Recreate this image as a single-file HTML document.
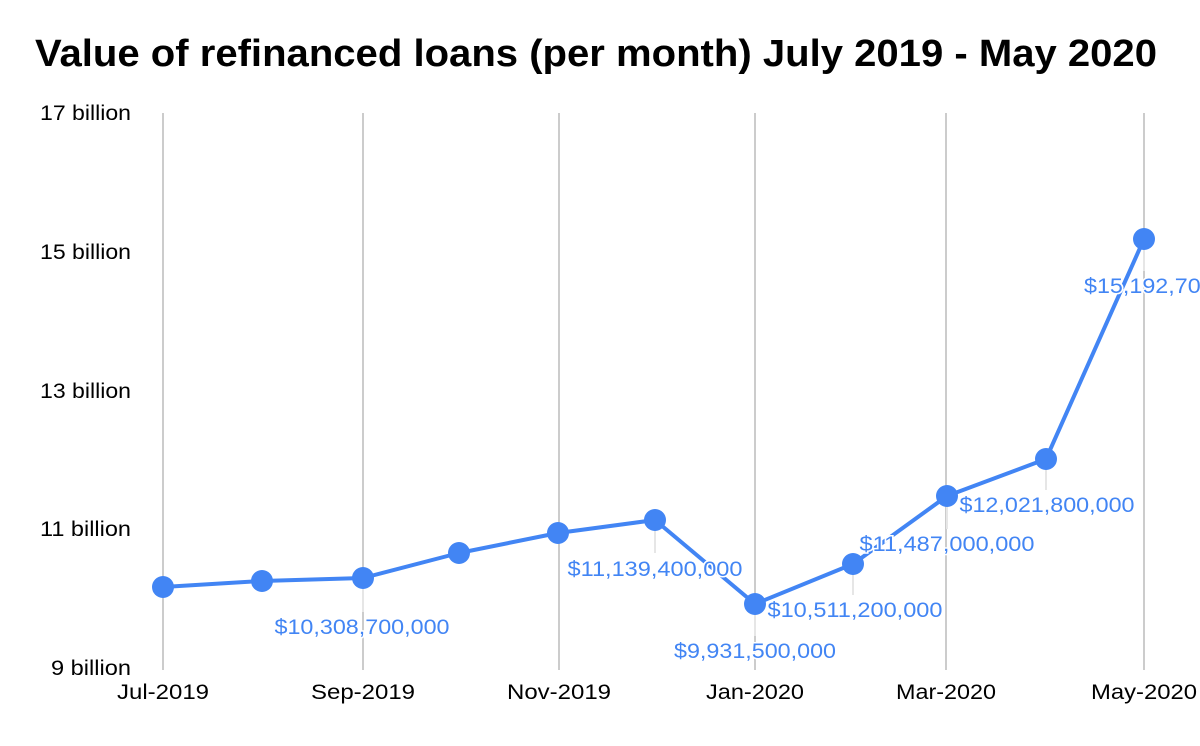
<!DOCTYPE html>
<html><head><style>
body{margin:0;background:#fff;}
svg text{font-family:"Liberation Sans",Arial,sans-serif;}
</style></head><body>
<svg width="1200" height="741" xmlns="http://www.w3.org/2000/svg">
<text x="35" y="66" font-size="38" font-weight="bold" fill="#000" textLength="1122" lengthAdjust="spacingAndGlyphs">Value of refinanced loans (per month) July 2019 - May 2020</text>
<g stroke="#cccccc" stroke-width="2">
<line x1="163" y1="113" x2="163" y2="670"/>
<line x1="363" y1="113" x2="363" y2="670"/>
<line x1="559" y1="113" x2="559" y2="670"/>
<line x1="755" y1="113" x2="755" y2="670"/>
<line x1="946" y1="113" x2="946" y2="670"/>
<line x1="1144" y1="113" x2="1144" y2="670"/>
</g>
<g font-size="21" fill="#000" text-anchor="end">
<text x="131" y="120" textLength="91" lengthAdjust="spacingAndGlyphs">17 billion</text>
<text x="131" y="259" textLength="91" lengthAdjust="spacingAndGlyphs">15 billion</text>
<text x="131" y="398" textLength="91" lengthAdjust="spacingAndGlyphs">13 billion</text>
<text x="131" y="536" textLength="91" lengthAdjust="spacingAndGlyphs">11 billion</text>
<text x="131" y="675" textLength="80" lengthAdjust="spacingAndGlyphs">9 billion</text>
</g>
<g font-size="21" fill="#000" text-anchor="middle">
<text x="163" y="699" textLength="92" lengthAdjust="spacingAndGlyphs">Jul-2019</text>
<text x="363" y="699" textLength="104" lengthAdjust="spacingAndGlyphs">Sep-2019</text>
<text x="559" y="699" textLength="104" lengthAdjust="spacingAndGlyphs">Nov-2019</text>
<text x="755" y="699" textLength="98" lengthAdjust="spacingAndGlyphs">Jan-2020</text>
<text x="946" y="699" textLength="100" lengthAdjust="spacingAndGlyphs">Mar-2020</text>
<text x="1144" y="699" textLength="106" lengthAdjust="spacingAndGlyphs">May-2020</text>
</g>
<g stroke="#e6e6e6" stroke-width="2">
<line x1="363" y1="578" x2="363" y2="612"/>
<line x1="655" y1="520" x2="655" y2="553"/>
<line x1="755" y1="604" x2="755" y2="636"/>
<line x1="853" y1="564" x2="853" y2="595"/>
<line x1="947" y1="496" x2="947" y2="529"/>
<line x1="1046" y1="459" x2="1046" y2="490"/>
<line x1="1144" y1="239" x2="1144" y2="271"/>
</g>
<polyline fill="none" stroke="#4285f4" stroke-width="4" stroke-linejoin="round" points="163,587 262,581 363,578 459,553 558,533 655,520 755,604 853,564 947,496 1046,459 1144,239"/>
<g fill="#4285f4">
<circle cx="163" cy="587" r="11"/><circle cx="262" cy="581" r="11"/><circle cx="363" cy="578" r="11"/>
<circle cx="459" cy="553" r="11"/><circle cx="558" cy="533" r="11"/><circle cx="655" cy="520" r="11"/>
<circle cx="755" cy="604" r="11"/><circle cx="853" cy="564" r="11"/><circle cx="947" cy="496" r="11"/>
<circle cx="1046" cy="459" r="11"/><circle cx="1144" cy="239" r="11"/>
</g>
<g font-size="21" fill="#4285f4" stroke="#fff" stroke-width="3" paint-order="stroke" text-anchor="middle" lengthAdjust="spacingAndGlyphs">
<text x="362" y="634" textLength="175" lengthAdjust="spacingAndGlyphs">$10,308,700,000</text>
<text x="655" y="576" textLength="175" lengthAdjust="spacingAndGlyphs">$11,139,400,000</text>
<text x="755" y="658" textLength="162" lengthAdjust="spacingAndGlyphs">$9,931,500,000</text>
<text x="855" y="617" textLength="175" lengthAdjust="spacingAndGlyphs">$10,511,200,000</text>
<text x="947" y="551" textLength="175" lengthAdjust="spacingAndGlyphs">$11,487,000,000</text>
<text x="1047" y="512" textLength="175" lengthAdjust="spacingAndGlyphs">$12,021,800,000</text>
<text x="1084" y="293" text-anchor="start" textLength="175" lengthAdjust="spacingAndGlyphs">$15,192,700,000</text>
</g>
</svg>
</body></html>
